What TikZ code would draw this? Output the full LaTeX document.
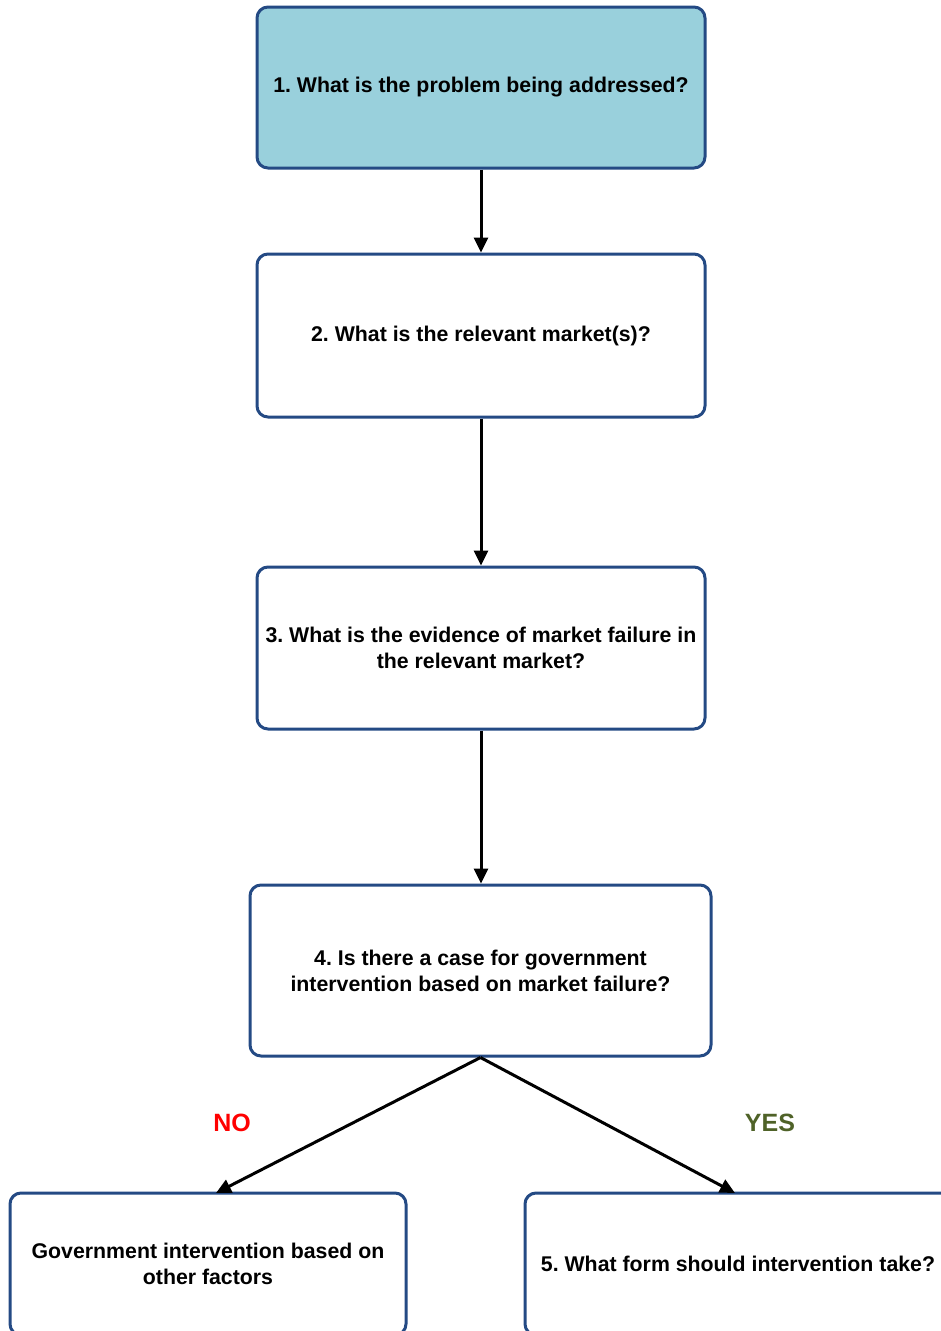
\documentclass[tikz,border=0pt]{standalone}
\usepackage{fontspec}
\setmainfont{Liberation Sans}
\usetikzlibrary{arrows.meta}
\frenchspacing
\definecolor{boxblue}{HTML}{244A84}
\definecolor{paleblue}{HTML}{99D0DC}
\definecolor{noRed}{HTML}{FF0000}
\definecolor{yesGreen}{HTML}{4F6228}
\tikzset{
  stepbox/.style={draw=boxblue, line width=3pt, rounded corners=11pt,
    align=center, inner sep=0pt, font=\fontsize{21.3}{26}\selectfont\bfseries},
  flow/.style={line width=3pt, -{Triangle[length=15pt,width=14pt]}},
  answer/.style={font=\fontsize{25}{26}\selectfont\bfseries}
}
\begin{document}
\begin{tikzpicture}[x=1pt, y=-1pt]
  \useasboundingbox (0,0) rectangle (941,1331);
  \clip (0,0) rectangle (941,1331);

  % question boxes
  \node[stepbox, fill=paleblue, minimum width=448pt, minimum height=161pt] (q1) at (481,87.5)
    {1. What is the problem being addressed?};
  \node[stepbox, minimum width=448pt, minimum height=163pt] (q2) at (481,335.5)
    {2. What is the relevant market(s)?};
  \node[stepbox, minimum width=448pt, minimum height=162pt] (q3) at (481,648)
    {3. What is the evidence of market failure in\\the relevant market?};
  \node[stepbox, minimum width=461pt, minimum height=171pt] (q4) at (480.5,970.5)
    {4. Is there a case for government\\intervention based on market failure?};

  % outcome boxes, running past the lower edge
  \node[stepbox, minimum width=396pt, minimum height=142pt] (other) at (208,1264)
    {Government intervention based on\\other factors};
  \node[stepbox, minimum width=426pt, minimum height=142pt] (form) at (738,1264)
    {5. What form should intervention take?};

  \coordinate (noTip) at (216,1193);
  \coordinate (yesTip) at (735,1193);

  % connectors
  \draw[flow] (q1.south) -- (q2.north);
  \draw[flow] (q2.south) -- (q3.north);
  \draw[flow] (q3.south) -- (q3.south |- q4.north);
  \draw[flow] (q4.south) -- (noTip);
  \draw[flow] (q4.south) -- (yesTip);

  % branch labels
  \node[answer, text=noRed] (no) at (232,1123) {NO};
  \node[answer, text=yesGreen] (yes) at (770,1123) {YES};
\end{tikzpicture}
\end{document}
